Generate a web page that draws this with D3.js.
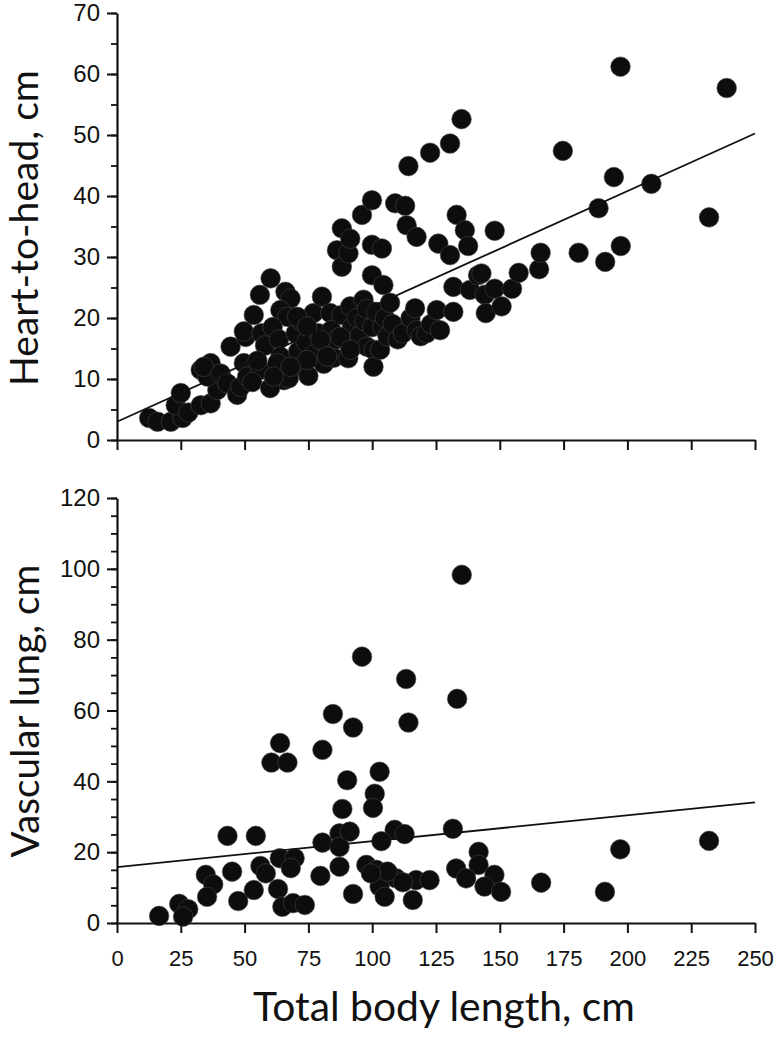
<!DOCTYPE html>
<html><head><meta charset="utf-8">
<script src="https://cdn.jsdelivr.net/npm/d3@7"></script>
<style>body{margin:0;background:#fff}svg{display:block}</style>
</head><body>
<svg id="chart" width="777" height="1037"></svg>
<script>
// ---------- DATA ----------
const xTickValues = [0, 25, 50, 75, 100, 125, 150, 175, 200, 225, 250];
const topYTickValues = [0, 10, 20, 30, 40, 50, 60, 70];
const bottomYTickValues = [0, 20, 40, 60, 80, 100, 120];
const xLabel = "Total body length, cm";
const topYLabel = "Heart-to-head, cm";
const bottomYLabel = "Vascular lung, cm";

// Heart-to-head (cm) vs total body length (cm)
const heartToHead = [
  [12.6,3.6],[15.9,3.0],[21.1,3.0],[25.7,3.6],[23,5.7],[25,7.7],[28,4.5],[32.8,5.7],[36.7,6.0],[39.3,8.2],
  [32.8,11.5],[36.7,12.6],[35.4,10.4],[34,12],[40.6,10.9],[43.2,9.3],[44.5,15.3],[47.1,7.4],[48.4,8.7],[49.7,12.6],
  [51,10.4],[50.4,16.9],[49.7,17.8],[53.6,20.5],[56,23.8],[60.2,26.5],[66,24.3],[68,23.2],[64,21.3],[66.7,20.2],
  [56.7,17.5],[58,15.5],[61,18.5],[63.5,16.5],[56.2,11.5],[53,9.5],[55,13],[64,13.7],[62.8,12.6],[65.4,9.8],
  [67.3,10.1],[60,8.5],[70,17.5],[72,19.5],[71,14.5],[73,12],[74,16],[75,10.5],[77,20.8],[77,14],
  [79,17.5],[80.3,23.5],[81,12.5],[82,15.5],[83.6,20.8],[84,18],[85,13.5],[86.2,31.1],[86,16.5],[88.1,34.7],
  [88.1,28.4],[88,20.5],[89.5,16.4],[90.6,13.4],[90.7,30.6],[91.4,33],[91.4,21.9],[92,18.5],[93,15.5],[94,20],
  [95,17],[96,36.9],[96.6,23],[97,19.5],[97.9,15.3],[98,21.5],[99.9,39.3],[99.9,32],[99.9,27],[100,18.5],
  [100.5,14.8],[100.5,12],[101.5,21],[103.1,14.8],[103.8,31.4],[104.4,25.4],[104,18.5],[105,20],[106,17],[107,22.5],
  [108,19],[109,38.8],[110,16.5],[112,17.5],[112.9,38.4],[113.5,35.2],[114.2,44.9],[115,20],[116.8,21.6],[117.4,33.3],
  [117.4,18],[119,17],[121.3,17.5],[122.7,47.1],[123,19],[125.3,21.3],[125.9,32.2],[126.6,18],[130.5,48.6],[130.5,30.3],
  [131.8,25.1],[131.8,21.0],[133.1,36.9],[135,52.6],[136.3,34.4],[137.6,31.8],[138.3,24.6],[141.5,27.0],[142.8,27.3],[144.1,23.8],
  [144.5,20.8],[148,34.3],[148,24.8],[150.7,21.9],[154.8,24.8],[157.4,27.4],[165.4,28.0],[166,30.7],[174.7,47.4],[180.9,30.7],
  [188.7,38.0],[191.3,29.2],[194.7,43.1],[197.4,31.8],[197.3,61.2],[209.4,42.0],[232,36.5],[238.9,57.7],
  [70.6,20.2],[74.5,18.6],[79.7,16.4],[87.5,16.9],[91.4,14.8],[82.3,13.7],[74.5,13.1],[68,12],[61.4,10.4]
];
const heartToHeadFit = { intercept: 3.0, slope: 0.189 };

// Vascular lung (cm) vs total body length (cm)
const vascularLung = [
  [16.5,2.0],[24.4,5.4],[27.9,3.9],[25.9,1.8],[34.8,13.6],[37.7,10.9],[35.3,7.4],[43.3,24.6],[45.1,14.5],[47.5,6.2],
  [54.4,24.6],[53.6,9.3],[56.2,16.1],[58.3,14.0],[63.1,9.6],[64.8,4.6],[69.0,5.6],[73.6,5.1],[63.9,50.8],[60.5,45.3],
  [66.8,45.3],[63.8,18.3],[69.6,18.3],[68.1,15.5],[80.5,48.9],[84.6,59.0],[80.5,22.7],[79.7,13.3],[87.2,25.3],[87.2,21.5],
  [87.2,15.9],[90.2,40.3],[88.3,32.2],[92.5,55.2],[92.5,8.2],[96.0,75.2],[102.9,42.7],[101.0,36.5],[100.3,32.5],[91.2,25.8],
  [108.8,26.3],[103.6,23.1],[97.7,16.4],[101.6,15.0],[105.5,13.6],[109.4,12.6],[102.9,10.3],[104.9,7.4],[135.1,98.3],[113.3,68.9],
  [133.3,63.3],[114.2,56.6],[131.6,26.6],[112.7,25.1],[141.7,20.1],[141.7,16.4],[132.9,15.4],[136.8,12.6],[147.9,13.6],[144.0,10.3],
  [150.5,8.8],[166.2,11.4],[115.9,6.5],[117.2,12.1],[122.5,12.1],[112.0,11.5],[197.2,20.8],[191.2,8.8],[232.0,23.2],[106,14.5],[99.5,14]
];
const vascularLungFit = { intercept: 15.8, slope: 0.073 };

// ---------- DRAW ----------
const svg = d3.select("#chart");
const x = d3.scaleLinear().domain([0, 250]).range([117, 755]);
const tickFont = "'Liberation Sans', Arial, sans-serif";
const titleFont = "Lato, 'Open Sans', sans-serif";
const R = 9.8;

function range5(max) { return d3.range(0, max + 0.001, 5); }

function fit(t, target, base) {
  const l = t.node().getComputedTextLength();
  if (l > 0) t.attr("font-size", base * target / l);
}

function panel(cfg) {
  const y = d3.scaleLinear().domain([0, cfg.yMax]).range([cfg.y0, cfg.y1]);
  const g = svg.append("g");

  // minor y ticks
  g.append("g").attr("transform", `translate(${x(0)},0)`)
    .call(d3.axisLeft(y).tickValues(range5(cfg.yMax)).tickSize(6).tickSizeOuter(0).tickFormat(""))
    .call(s => s.select(".domain").remove())
    .call(s => s.selectAll("line").attr("stroke", "#111").attr("stroke-width", 1.8));

  // major y ticks
  const ya = g.append("g").attr("transform", `translate(${x(0)},0)`)
    .call(d3.axisLeft(y).tickValues(cfg.yTicks).tickSize(10).tickSizeOuter(0).tickPadding(7));
  ya.select(".domain").attr("stroke", "#111").attr("stroke-width", 2.2);
  ya.selectAll("line").attr("stroke", "#111").attr("stroke-width", 2);
  ya.selectAll("text").attr("font-family", tickFont).attr("font-size", 24).attr("fill", "#111");

  // x axis
  const xa = g.append("g").attr("transform", `translate(0,${cfg.y0})`)
    .call(d3.axisBottom(x).tickValues(xTickValues).tickSize(10).tickSizeOuter(0).tickPadding(17)
      .tickFormat(cfg.xLabels ? d3.format("d") : ""));
  xa.select(".domain").attr("stroke", "#111").attr("stroke-width", 2.2);
  xa.selectAll("line").attr("stroke", "#111").attr("stroke-width", 2);
  xa.selectAll("text").attr("font-family", tickFont).attr("font-size", 22).attr("fill", "#111");

  // points
  g.append("g").selectAll("circle").data(cfg.data).join("circle")
    .attr("cx", d => x(d[0])).attr("cy", d => y(d[1])).attr("r", R)
    .attr("fill", "#0d0d0d").attr("stroke", "#444").attr("stroke-width", 0.6);

  // regression line
  const line = d3.line().x(d => x(d)).y(d => y(cfg.fit.intercept + cfg.fit.slope * d));
  g.append("path").datum([0, 250]).attr("d", line)
    .attr("fill", "none").attr("stroke", "#111").attr("stroke-width", 1.8);

  // y title
  const t = g.append("text").text(cfg.title)
    .attr("transform", `translate(${cfg.titleX},${cfg.titleY}) rotate(-90)`)
    .attr("text-anchor", "middle").attr("font-family", titleFont)
    .attr("font-size", 40).attr("fill", "#111");
  fit(t, cfg.titleLen, 40);
}

panel({ yMax: 70, y0: 440, y1: 13, yTicks: topYTickValues, data: heartToHead, fit: heartToHeadFit,
        xLabels: false, title: topYLabel, titleX: 38, titleY: 228, titleLen: 316 });
panel({ yMax: 120, y0: 923, y1: 498, yTicks: bottomYTickValues, data: vascularLung, fit: vascularLungFit,
        xLabels: true, title: bottomYLabel, titleX: 39, titleY: 711, titleLen: 293 });

const xt = svg.append("text").text(xLabel)
  .attr("x", 444).attr("y", 1021).attr("text-anchor", "middle")
  .attr("font-family", titleFont).attr("font-size", 40).attr("fill", "#111");
fit(xt, 382, 40);
</script>
</body></html>
